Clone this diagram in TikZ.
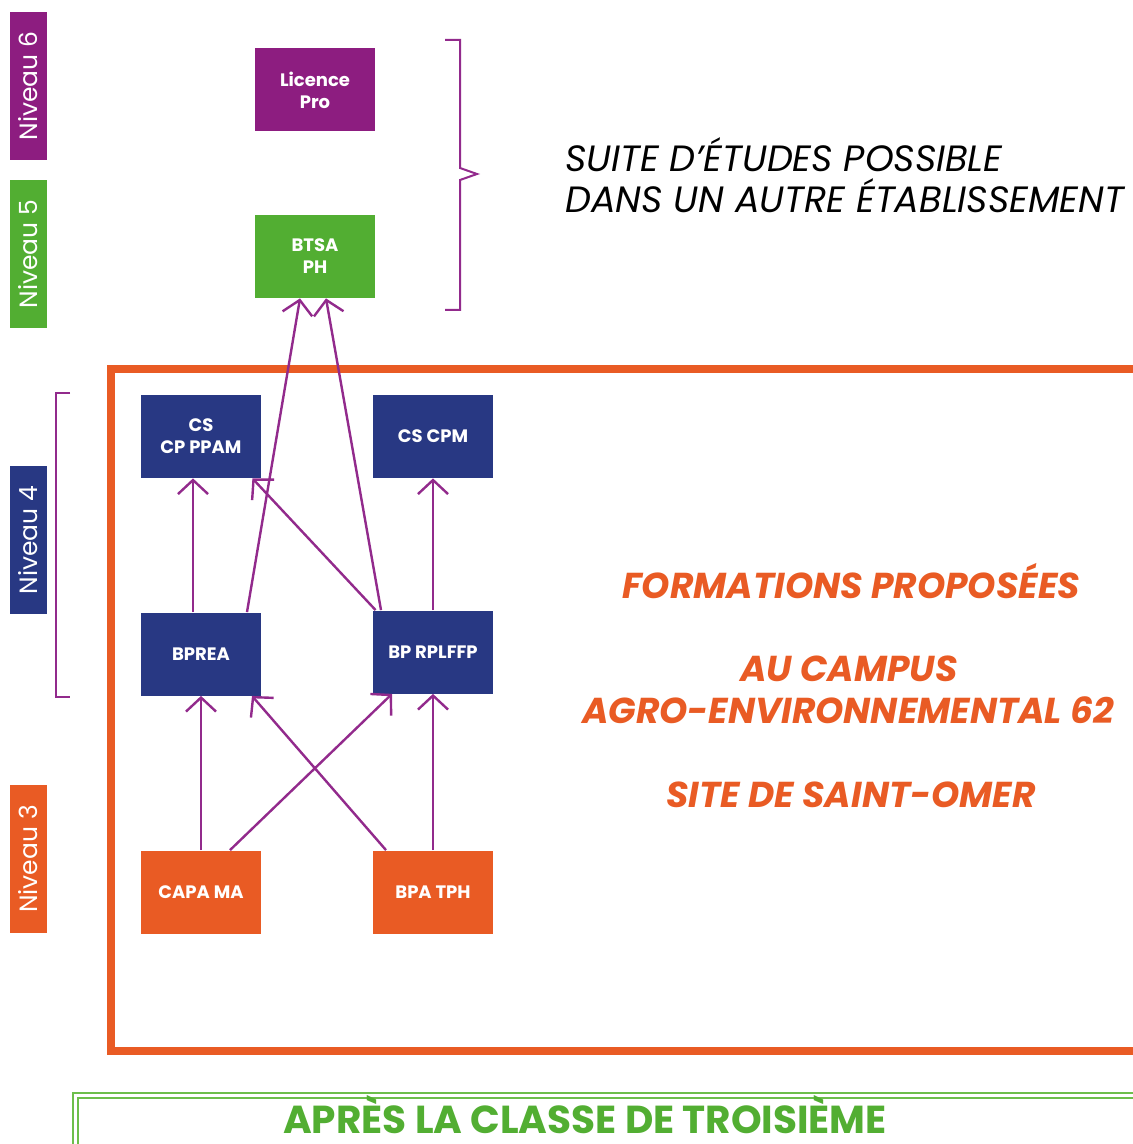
\documentclass[tikz,border=0pt]{standalone}
\usepackage{fontspec}
\setmainfont{Poppins}
\usetikzlibrary{arrows.meta}
\definecolor{cpurple}{HTML}{8D1D80}
\definecolor{carrow}{HTML}{922A8C}
\definecolor{cgreen}{HTML}{52AE32}
\definecolor{cgreenl}{HTML}{6DBE4B}
\definecolor{cnavy}{HTML}{283883}
\definecolor{corange}{HTML}{E95B24}
\begin{document}
\begin{tikzpicture}[x=0.5pt,y=-0.5pt,
  box/.style={minimum width=60pt, minimum height=41.5pt, inner sep=0pt, text=white,
    font=\bfseries\fontsize{9}{11}\selectfont, align=center},
  lvl/.style={rotate=90, minimum width=74pt, minimum height=18.5pt, inner sep=0pt,
    text=white, font=\fontsize{12.5}{14}\selectfont},
  arr/.style={draw=carrow, line width=1.2pt, -{Straight Barb[length=7pt,width=15pt]}},
  brk/.style={draw=carrow, line width=1pt},
  bigtxt/.style={text=corange, font=\bfseries\itshape\fontsize{18}{21}\selectfont, inner sep=0pt},
  suitetxt/.style={text=black, font=\itshape\fontsize{18.3}{21}\selectfont, inner sep=0pt}
]
\useasboundingbox (0,0) rectangle (1133,1144);
\fill[white] (0,0) rectangle (1133,1144);

% level labels
\node[lvl, fill=cpurple] (n6) at (28.5,86) {Niveau 6};
\node[lvl, fill=cgreen] (n5) at (28.5,254) {Niveau 5};
\node[lvl, fill=cnavy] (n4) at (28.5,540) {Niveau 4};
\node[lvl, fill=corange] (n3) at (28.5,859) {Niveau 3};

% left bracket (niveau 4)
\draw[brk] (70,393) -- (56,393) -- (56,697) -- (70,697);

% right brace
\draw[brk] (445,40) -- (460,40) -- (460,168) -- (477,174) -- (460,180) -- (460,310) -- (445,310);

% big orange frame
\draw[corange, line width=4pt] (1160,369) -- (111,369) -- (111,1051) -- (1160,1051);

% green bottom frame
\draw[cgreenl, line width=0.9pt] (73,1160) -- (73,1093) -- (1160,1093);
\draw[cgreenl, line width=0.9pt] (78,1160) -- (78,1098) -- (1160,1098);

% boxes
\node[box, fill=cpurple] (lic) at (315,90) {Licence\\Pro};
\node[box, fill=cgreen] (btsa) at (315,256.5) {BTSA\\PH};
\node[box, fill=cnavy] (csppam) at (201,436.5) {CS\\CP PPAM};
\node[box, fill=cnavy] (cscpm) at (433,436.5) {CS CPM};
\node[box, fill=cnavy] (bprea) at (201,654) {BPREA};
\node[box, fill=cnavy] (bprpl) at (433,652) {BP RPLFFP};
\node[box, fill=corange] (capa) at (201,892) {CAPA MA};
\node[box, fill=corange] (bpatph) at (433,892) {BPA TPH};

% arrows
\draw[arr] ([xshift=-4pt]bprea.north) -- ([xshift=-4pt]csppam.south);
\draw[arr] ([xshift=23pt]bprea.north) -- ([xshift=-7.5pt]btsa.south);
\draw[arr] ([xshift=-26pt]bprpl.north) -- ([xshift=5.5pt]btsa.south);
\draw[arr] ([xshift=1.5pt]bprpl.north west) -- ([xshift=-4.5pt]csppam.south east);
\draw[arr] (bprpl.north) -- (cscpm.south);
\draw[arr] (capa.north) -- (bprea.south);
\draw[arr] ([xshift=14.5pt]capa.north) -- ([xshift=-20.5pt]bprpl.south);
\draw[arr] ([xshift=-23.5pt]bpatph.north) -- ([xshift=25.5pt]bprea.south);
\draw[arr] (bpatph.north) -- (bprpl.south);

% texts
\node[suitetxt, anchor=base west] (s1) at (565,172) {SUITE D’ÉTUDES POSSIBLE};
\node[suitetxt, anchor=base west] (s2) at (565,213) {DANS UN AUTRE ÉTABLISSEMENT};

\node[bigtxt, anchor=base] (f1) at (851,598) {FORMATIONS PROPOSÉES};
\node[bigtxt, anchor=base] (f2) at (849,681) {AU CAMPUS};
\node[bigtxt, anchor=base] (f3) at (848,723) {AGRO-ENVIRONNEMENTAL 62};
\node[bigtxt, anchor=base] (f4) at (851,807) {SITE DE SAINT-OMER};

\node[text=cgreen, font=\bfseries\fontsize{19.5}{22}\selectfont, inner sep=0pt, text depth=0pt, anchor=base] (ap) at (585,1133) {APRÈS LA CLASSE DE TROISIÈME};
\end{tikzpicture}
\end{document}
